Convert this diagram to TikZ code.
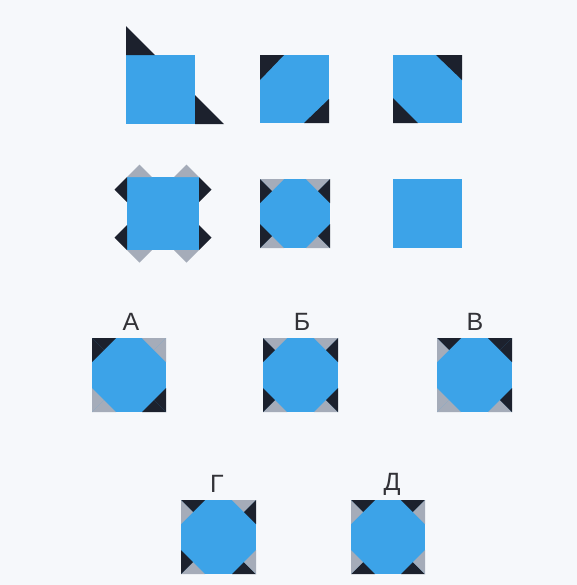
\documentclass[tikz,border=0pt]{standalone}
\usepackage{fontspec}
\setmainfont{Liberation Sans}
\definecolor{sqblue}{RGB}{60,163,232}
\definecolor{dk}{RGB}{28,33,45}
\definecolor{gr}{RGB}{165,172,185}
\definecolor{bgc}{RGB}{246,248,251}
\definecolor{lbl}{RGB}{50,50,55}
% corner triangle: corner (#1,#2), leg vector (#3,#4); #5 half along top/bottom side, #6 half along left/right side
\newcommand\crn[6]{%
  \fill[#5] (#1,#2) -- ++(#3,0) -- ++({-(#3)/2},{(#4)/2}) -- cycle;
  \fill[#6] (#1,#2) -- ++(0,#4) -- ++({(#3)/2},{-(#4)/2}) -- cycle;}
\newcommand\setsq[4]{\def\qxa{#1}\def\qya{#2}\def\qxb{#3}\def\qyb{#4}%
  \fill[sqblue] (#1,#2) rectangle (#3,#4);}
\def\qa{24}
\newcommand\corners[8]{%
  \crn{\qxa}{\qya}{\qa}{\qa}{#1}{#2}%
  \crn{\qxb}{\qya}{-\qa}{\qa}{#3}{#4}%
  \crn{\qxb}{\qyb}{-\qa}{-\qa}{#5}{#6}%
  \crn{\qxa}{\qyb}{\qa}{-\qa}{#7}{#8}}
\tikzset{lab/.style={text=lbl,font=\fontsize{12.5}{14}\selectfont,inner sep=0pt}}
\begin{document}
\begin{tikzpicture}[x=0.5pt,y=-0.5pt]
\fill[bgc] (0,0) rectangle (577,585);
\useasboundingbox (0,0) rectangle (577,585);
% ---- row 1 ----
\fill[sqblue] (126,55) rectangle (195,124);
\fill[dk] (126,26) -- (126,55) -- (155,55) -- cycle;
\fill[dk] (195,95) -- (195,124) -- (224,124) -- cycle;
\fill[sqblue] (260,55) rectangle (329,123);
\fill[dk] (260,55) -- (284,55) -- (260,80) -- cycle;
\fill[dk] (329,123) -- (304,123) -- (329,99) -- cycle;
\fill[sqblue] (393,55) rectangle (462,123);
\fill[dk] (462,55) -- (436,55) -- (462,80) -- cycle;
\fill[dk] (393,123) -- (418,123) -- (393,98) -- cycle;
% ---- row 2 ----
% figure with outward triangles
\fill[sqblue] (127,177) rectangle (199,250);
\fill[dk] (127,177) -- (127,202) -- (114.5,189.5) -- cycle;
\fill[dk] (127,250) -- (127,225) -- (114.5,237.5) -- cycle;
\fill[dk] (199,177) -- (199,202) -- (211.5,189.5) -- cycle;
\fill[dk] (199,250) -- (199,225) -- (211.5,237.5) -- cycle;
\fill[gr] (127,177) -- (152,177) -- (139.5,164.5) -- cycle;
\fill[gr] (199,177) -- (174,177) -- (186.5,164.5) -- cycle;
\fill[gr] (127,250) -- (152,250) -- (139.5,262.5) -- cycle;
\fill[gr] (199,250) -- (174,250) -- (186.5,262.5) -- cycle;
% folded-in figure
\setsq{260}{179}{330}{248}
\corners{gr}{dk}{gr}{dk}{gr}{dk}{gr}{dk}
% plain square
\fill[sqblue] (393,179) rectangle (462,248);
% ---- options ----
\node[lab] (la) at (131,322) {А};
\node[lab] (lb) at (302,322) {Б};
\node[lab] (lv) at (475,322) {В};
\node[lab] (lg) at (217,484) {Г};
\node[lab] (ld) at (392,484) {Д};
\setsq{92}{338}{166}{412}
\corners{dk}{dk}{gr}{gr}{dk}{dk}{gr}{gr}
\setsq{263}{338}{338}{412}
\corners{gr}{dk}{gr}{dk}{gr}{dk}{gr}{dk}
\setsq{437}{338}{512}{412}
\corners{dk}{gr}{dk}{dk}{gr}{dk}{gr}{gr}
\setsq{181}{500}{256}{574}
\corners{dk}{gr}{gr}{dk}{dk}{gr}{gr}{dk}
\setsq{351}{500}{425}{574}
\corners{dk}{gr}{dk}{gr}{dk}{gr}{dk}{gr}
\end{tikzpicture}
\end{document}
